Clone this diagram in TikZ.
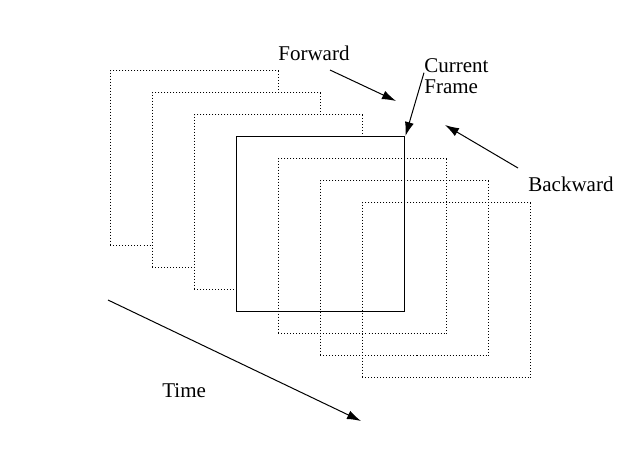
\documentclass[tikz,border=0pt]{standalone}
\usepackage{fontspec}
\setmainfont{Liberation Serif}
\usepackage{tikz}
\usetikzlibrary{arrows.meta}
\tikzset{
  frm/.style={draw, line width=0.5pt, densely dotted, minimum width=84pt, minimum height=87.5pt, anchor=north west, inner sep=0pt},
  lbl/.style={anchor=base west, inner sep=0pt, font=\fontsize{10.5}{10.5}\selectfont, align=left},
  arr/.style={-{Latex[length=7pt,width=4.5pt]}, line width=0.5pt}
}
\begin{document}
\begin{tikzpicture}[x=0.5pt,y=-0.5pt]
                \useasboundingbox (0,0) rectangle (634,450);
                % frames behind the current one hide each other
                \foreach \i in {0,1,2}
                    \node[frm, fill=white] (f\i) at ({110+42*\i},{70+22*\i}) {};
                \node[frm, fill=white, solid, line width=0.7pt] (cur) at (236,136) {};
                % frames in front are see-through
                \foreach \i in {4,5,6}
                    \node[frm] (f\i) at ({110+42*\i},{70+22*\i}) {};
                \node[lbl] (fwd) at (278,60) {Forward};
                \node[lbl] (cf) at (424,93) {Current\\Frame};
                \node[lbl] (bwd) at (528,191) {Backward};
                \node[lbl] (time) at (162,397) {Time};
                \coordinate (fa) at (330,70);
                \coordinate (fb) at (396,101);
                \coordinate (ba) at (518,168);
                \coordinate (bb) at (445,125);
                \coordinate (ta) at (108,300);
                \coordinate (tb) at (361,421);
                \draw[arr] (fa) -- (fb);
                \draw[arr] (cf.north west) ++(0,15) -- (cur.north east);
                \draw[arr] (ba) -- (bb);
                \draw[arr] (ta) -- (tb);
            \end{tikzpicture}
\end{document}
